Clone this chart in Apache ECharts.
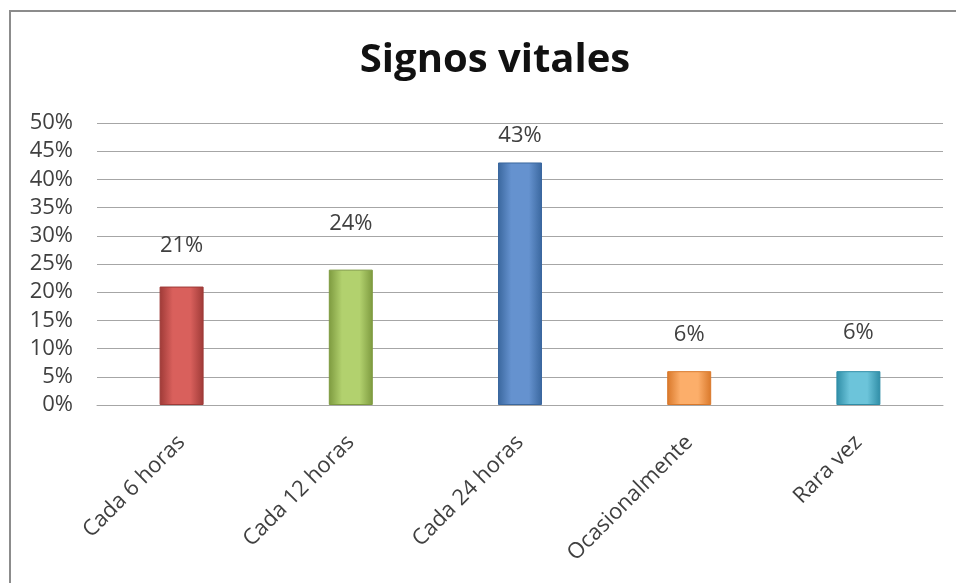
<!DOCTYPE html>
<html>
<head>
<meta charset="utf-8">
<script src="https://cdn.jsdelivr.net/npm/echarts@6/dist/echarts.min.js"></script>
<style>
html,body{margin:0;padding:0;background:#fff;}
#c{width:956px;height:583px;}
</style>
</head>
<body>
<div id="c"></div>
<script>
const categories = ["Cada 6 horas", "Cada 12 horas", "Cada 24 horas", "Ocasionalmente", "Rara vez"];
const values = [21, 24, 43, 6, 6];
const yTicks = [0, 5, 10, 15, 20, 25, 30, 35, 40, 45, 50];
const barColors = [
  ["#9e3a37", "#d9605c"],
  ["#7d9a3f", "#b2d16e"],
  ["#3a679e", "#6592cf"],
  ["#d9782a", "#fcae6a"],
  ["#2f8da6", "#6cc4da"]
];
const labelGaps = [30, 35, 16, 25, 27];

const chart = echarts.init(document.getElementById('c'));
const data = values.map((v, i) => ({
  value: v,
  itemStyle: {
    color: new echarts.graphic.LinearGradient(0, 0, 1, 0, [
      {offset: 0, color: barColors[i][0]},
      {offset: 0.3, color: barColors[i][1]},
      {offset: 0.7, color: barColors[i][1]},
      {offset: 1, color: barColors[i][0]}
    ]),
    borderColor: barColors[i][0],
    borderWidth: 1
  },
  label: {distance: labelGaps[i]}
}));

chart.setOption({
  animation: false,
  backgroundColor: '#fff',
  title: {
    text: 'Signos vitales',
    left: 490,
    textAlign: 'center',
    top: 36,
    textStyle: {fontFamily: 'Open Sans', fontWeight: 'bold', fontSize: 40, color: '#111'}
  },
  grid: {left: 97, right: 13, top: 123, bottom: 178},
  xAxis: {
    type: 'category',
    data: categories,
    axisLine: {show: true, lineStyle: {color: '#a6a6a6', width: 1}},
    axisTick: {show: false},
    axisLabel: {
      rotate: 45,
      margin: 34,
      interval: 0,
      fontFamily: 'Open Sans',
      fontSize: 22,
      color: '#404040'
    }
  },
  yAxis: {
    type: 'value',
    min: yTicks[0],
    max: yTicks[yTicks.length - 1],
    interval: 5,
    axisLine: {show: false},
    axisTick: {show: false},
    splitLine: {lineStyle: {color: '#a6a6a6', width: 1}},
    axisLabel: {
      formatter: '{value}%',
      margin: 24,
      fontFamily: 'Open Sans',
      fontSize: 22,
      color: '#404040'
    }
  },
  series: [{
    type: 'bar',
    data: data,
    barWidth: '26%',
    label: {
      show: true,
      position: 'top',
      formatter: '{c}%',
      fontFamily: 'Open Sans',
      fontSize: 22,
      color: '#404040'
    }
  }],
  graphic: [{
    type: 'polyline',
    shape: {points: [[10, 583], [10, 11], [956, 11]]},
    style: {stroke: '#8c8c8c', lineWidth: 2, fill: null},
    silent: true
  }]
});
</script>
</body>
</html>
